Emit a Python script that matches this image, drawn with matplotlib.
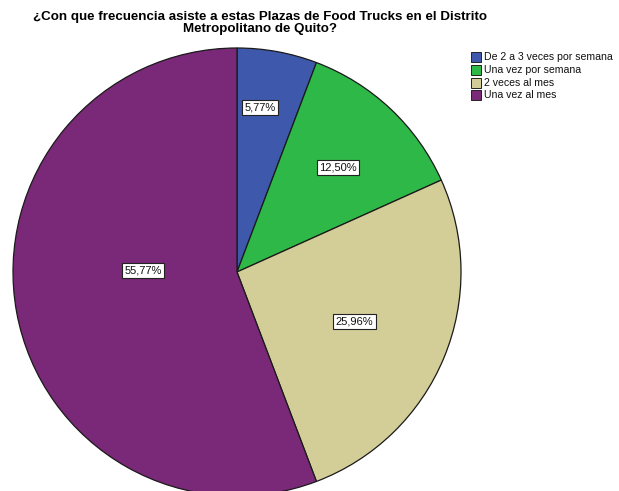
import matplotlib
matplotlib.use("Agg")
import matplotlib.pyplot as plt
from matplotlib.patches import Rectangle
import numpy as np

plt.rcParams['font.family'] = ['Liberation Sans', 'DejaVu Sans']

categories = ["De 2 a 3 veces por semana", "Una vez por semana", "2 veces al mes", "Una vez al mes"]
percentages = [5.77, 12.50, 25.96, 55.77]
colors = ["#3E58AC", "#2EB848", "#D3CE97", "#7A2878"]

# label placement: radial fraction and angular shift (degrees) from the wedge middle
label_radius = [0.74, 0.65, 0.57, 0.42]
label_shift = [2.4, -0.7, -0.5, -11.4]

W, H = 619, 491
fig = plt.figure(figsize=(W / 100, H / 100), dpi=100)

cx, cy, r = 237, 272, 224
ax = fig.add_axes([(cx - r) / W, (H - (cy + r)) / H, 2 * r / W, 2 * r / H])
wedges, _ = ax.pie(percentages, colors=colors, startangle=90, counterclock=False,
                   radius=1.0, wedgeprops=dict(edgecolor="#1a1a1a", linewidth=0.9))
ax.set_xlim(-1, 1)
ax.set_ylim(-1, 1)
ax.set_aspect("equal")
ax.axis("off")

for w, pct, lr, sh in zip(wedges, percentages, label_radius, label_shift):
    mid = np.deg2rad((w.theta1 + w.theta2) / 2 + sh)
    ax.text(lr * np.cos(mid), lr * np.sin(mid), f"{pct:.2f}%".replace(".", ","),
            ha="center", va="center", fontsize=8, color="#111111",
            bbox=dict(boxstyle="square,pad=0.22", facecolor="white",
                      edgecolor="#222222", linewidth=0.8))

fig.text(260 / W, 1 - 23 / H,
         "¿Con que frecuencia asiste a estas Plazas de Food Trucks en el Distrito\nMetropolitano de Quito?",
         ha="center", va="center", fontsize=9.6, fontweight="bold", linespacing=1.05)

# legend
for i, (cat, col) in enumerate(zip(categories, colors)):
    y = 57 + i * 12.8
    fig.patches.append(Rectangle((471 / W, 1 - (y + 5) / H), 10 / W, 10 / H,
                                 transform=fig.transFigure, facecolor=col,
                                 edgecolor="#222222", linewidth=0.7))
    fig.text(484 / W, 1 - y / H, cat, ha="left", va="center", fontsize=7.6, color="#111111")

fig.savefig("out.png", dpi=100)
